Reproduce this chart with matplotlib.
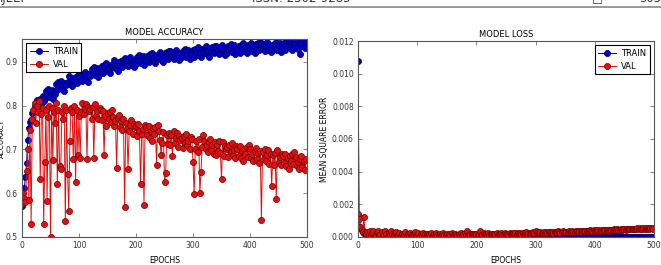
import numpy as np
import matplotlib.pyplot as plt
from matplotlib.lines import Line2D

# epochs are sampled every 2 (0, 2, ..., 498)
epochs = np.arange(0, 500, 2)

# accuracy values in thousandths
train_acc = [
    571, 588, 612, 637, 668, 722, 748, 763, 768, 783,
    786, 800, 791, 812, 798, 806, 815, 803, 822, 811,
    818, 833, 824, 838, 820, 829, 836, 815, 831, 826,
    850, 835, 853, 843, 857, 839, 846, 834, 852, 848,
    853, 867, 849, 860, 844, 864, 856, 866, 851, 869,
    874, 861, 867, 856, 872, 877, 859, 868, 854, 871,
    868, 883, 874, 888, 870, 879, 886, 865, 881, 876,
    890, 875, 893, 883, 897, 879, 886, 874, 892, 888,
    889, 903, 885, 896, 880, 900, 892, 902, 887, 905,
    908, 895, 901, 890, 906, 911, 893, 902, 888, 905,
    896, 911, 902, 916, 898, 907, 914, 893, 909, 904,
    914, 899, 917, 907, 921, 903, 910, 898, 916, 912,
    909, 923, 905, 916, 900, 920, 912, 922, 907, 925,
    924, 911, 917, 906, 922, 927, 909, 918, 904, 921,
    910, 925, 916, 930, 912, 921, 928, 907, 923, 918,
    927, 912, 930, 920, 934, 916, 923, 911, 929, 925,
    921, 935, 917, 928, 912, 932, 924, 934, 919, 937,
    935, 922, 928, 917, 933, 938, 920, 929, 915, 932,
    920, 935, 926, 940, 922, 931, 938, 917, 933, 928,
    936, 921, 939, 929, 943, 925, 932, 920, 938, 934,
    929, 943, 925, 936, 920, 940, 932, 942, 927, 945,
    942, 929, 935, 924, 940, 945, 927, 936, 922, 939,
    926, 941, 932, 946, 928, 937, 944, 923, 939, 934,
    942, 927, 945, 935, 949, 931, 938, 926, 944, 940,
    934, 948, 930, 941, 918, 943, 937, 947, 932, 946,
]

val_acc = [
    575, 600, 590, 580, 650, 700, 585, 745, 530, 770,
    790, 805, 760, 800, 785, 810, 633, 780, 795, 530,
    672, 790, 582, 775, 800, 500, 795, 675, 785, 760,
    805, 620, 790, 663, 655, 785, 770, 800, 537, 790,
    644, 559, 720, 795, 785, 678, 800, 625, 790, 688,
    776, 680, 785, 807, 780, 793, 804, 677, 796, 788,
    793, 770, 797, 680, 803, 776, 787, 769, 795, 790,
    766, 787, 688, 777, 753, 782, 770, 786, 763, 790,
    774, 754, 764, 657, 771, 778, 752, 765, 744, 770,
    569, 761, 747, 656, 742, 755, 766, 734, 758, 750,
    753, 730, 757, 742, 621, 736, 747, 574, 755, 750,
    732, 753, 726, 743, 719, 748, 736, 752, 665, 756,
    742, 722, 688, 715, 739, 625, 645, 733, 712, 738,
    710, 733, 685, 741, 714, 727, 738, 706, 730, 722,
    726, 703, 730, 715, 736, 709, 720, 702, 728, 723,
    672, 598, 702, 719, 695, 724, 601, 648, 705, 732,
    720, 700, 710, 693, 717, 724, 698, 711, 690, 716,
    688, 711, 697, 719, 692, 632, 716, 684, 708, 700,
    705, 682, 709, 694, 715, 688, 699, 681, 707, 702,
    686, 707, 680, 697, 673, 702, 690, 706, 683, 710,
    700, 680, 690, 673, 697, 704, 678, 691, 670, 696,
    539, 693, 679, 701, 674, 687, 698, 666, 690, 617,
    688, 665, 692, 587, 698, 671, 682, 664, 690, 685,
    669, 690, 663, 680, 656, 685, 673, 689, 666, 693,
    682, 662, 672, 655, 679, 686, 660, 673, 652, 678,
]

# loss values in units of 1e-5
train_loss = [
    1080, 120, 60, 40, 30, 25, 20, 15, 12, 10,
    9, 8, 8, 7, 7, 6, 6, 6, 5, 5,
    5, 5, 4, 4, 4, 4, 4, 4, 3, 3,
    3, 3, 3, 3, 3, 3, 3, 3, 3, 3,
    3, 3, 3, 3, 2, 2, 2, 2, 2, 2,
    2, 2, 2, 2, 2, 2, 2, 2, 2, 2,
    2, 2, 2, 2, 2, 2, 2, 2, 2, 2,
    2, 2, 2, 2, 2, 2, 2, 2, 2, 2,
    2, 2, 2, 2, 2, 2, 2, 2, 2, 2,
    2, 2, 2, 2, 2, 2, 2, 2, 2, 2,
    2, 2, 2, 2, 2, 2, 2, 2, 2, 2,
    2, 2, 2, 2, 2, 2, 2, 2, 2, 2,
    2, 2, 2, 2, 2, 2, 2, 2, 2, 2,
    2, 2, 2, 2, 2, 2, 2, 2, 2, 2,
    2, 2, 2, 2, 2, 2, 2, 2, 2, 2,
    2, 2, 2, 2, 2, 2, 2, 2, 2, 2,
    2, 2, 2, 2, 2, 2, 2, 2, 2, 2,
    2, 2, 2, 2, 2, 2, 2, 2, 2, 2,
    2, 2, 2, 2, 2, 2, 2, 2, 2, 2,
    2, 2, 2, 2, 2, 2, 2, 2, 2, 2,
    2, 2, 2, 2, 2, 2, 2, 2, 2, 2,
    2, 2, 2, 2, 2, 2, 2, 2, 2, 2,
    2, 2, 2, 2, 2, 2, 2, 2, 2, 2,
    2, 2, 2, 2, 2, 2, 2, 2, 2, 2,
    2, 2, 2, 2, 2, 2, 2, 2, 2, 2,
]

val_loss = [
    140, 110, 60, 40, 30, 120, 25, 18, 30, 12,
    35, 10, 22, 38, 15, 8, 28, 36, 12, 20,
    32, 9, 15, 34, 18, 6, 25, 12, 38, 16,
    10, 22, 30, 8, 14, 26, 12, 20, 9, 16,
    28, 10, 18, 6, 24, 14, 8, 20, 30, 11,
    15, 22, 8, 18, 12, 26, 9, 16, 21, 10,
    18, 7, 24, 13, 17, 9, 22, 12, 15, 20,
    8, 16, 25, 11, 14, 19, 9, 17, 12, 22,
    14, 10, 20, 15, 9, 18, 13, 24, 11, 16,
    22, 12, 38, 14, 19, 10, 17, 21, 13, 16,
    20, 12, 18, 34, 15, 11, 22, 16, 19, 13,
    24, 14, 18, 21, 12, 20, 17, 25, 15, 19,
    16, 22, 14, 20, 24, 17, 21, 15, 23, 18,
    20, 26, 17, 22, 19, 25, 18, 23, 21, 27,
    19, 24, 28, 21, 25, 20, 26, 23, 29, 22,
    36, 25, 28, 23, 30, 26, 24, 29, 27, 31,
    25, 28, 32, 26, 30, 27, 33, 29, 28, 34,
    30, 27, 32, 35, 29, 33, 31, 28, 34, 32,
    30, 35, 33, 31, 36, 34, 32, 38, 35, 33,
    37, 35, 39, 34, 38, 36, 40, 37, 35, 41,
    38, 40, 36, 42, 39, 41, 38, 43, 40, 42,
    41, 44, 39, 45, 42, 43, 46, 41, 44, 47,
    43, 45, 48, 44, 46, 49, 45, 47, 50, 46,
    48, 51, 47, 52, 49, 50, 53, 48, 55, 51,
    50, 53, 49, 56, 52, 54, 51, 57, 53, 52,
]

train_acc = np.array(train_acc) / 1000.0
val_acc = np.array(val_acc) / 1000.0
train_loss = np.array(train_loss) * 1e-5
val_loss = np.array(val_loss) * 1e-5

acc_ticks = [0.5, 0.6, 0.7, 0.8, 0.9]
loss_ticks = [0.000, 0.002, 0.004, 0.006, 0.008, 0.010, 0.012]
epoch_ticks = [0, 100, 200, 300, 400, 500]

plt.rcParams['font.family'] = 'DejaVu Sans'
fs = 5.5

fig = plt.figure(figsize=(6.61, 2.65), dpi=100)

# page header, cut by the top edge of the screenshot
hy = 1 - 2.0 / 265
fig.text(0.0, hy, 'IJEEI', fontsize=8.5, color='#333333', va='baseline')
fig.text(0.455, hy, 'ISSN: 2502-9285', fontsize=8.5, color='#333333',
         va='baseline', ha='center')
fig.text(0.895, hy, '\u25a1', fontsize=8.5, color='#333333', va='baseline')
fig.text(1.0, hy, '505', fontsize=8.5, color='#333333', va='baseline', ha='right')
fig.add_artist(Line2D([0, 1], [1 - 7 / 265] * 2, color='#888888', lw=1.2))


def style_axes(ax):
    ax.tick_params(direction='in', length=3, width=0.5, labelsize=fs, pad=3,
                   top=True, right=True, colors='#555555', labelcolor='#333333')
    for sp in ax.spines.values():
        sp.set_linewidth(0.8)
        sp.set_color('#555555')


def plot_series(ax, x, y, color, edge):
    ax.plot(x, y, '-', color=color, lw=0.7, marker='o', ms=4.4,
            mfc=color, mec=edge, mew=0.5)


def add_legend(ax, loc):
    leg = ax.legend(['TRAIN', 'VAL'], loc=loc, fontsize=fs + 0.5, numpoints=1,
                    fancybox=False, framealpha=1, edgecolor='k',
                    borderpad=0.4, handlelength=2.2, handletextpad=0.6,
                    borderaxespad=0.5)
    leg.get_frame().set_linewidth(0.8)


# accuracy
ax1 = fig.add_axes([22 / 661, 28 / 265, 285 / 661, 198 / 265])
plot_series(ax1, epochs, train_acc, '#0000cc', '#000066')
plot_series(ax1, epochs, val_acc, '#e01010', '#700000')
ax1.set_xlim(0, 500)
ax1.set_ylim(0.5, 0.952)
ax1.set_xticks(epoch_ticks)
ax1.set_yticks(acc_ticks)
ax1.set_title('MODEL ACCURACY', fontsize=fs + 0.5, pad=3)
ax1.set_xlabel('EPOCHS', fontsize=fs, labelpad=4)
ax1.set_ylabel('ACCURACY', fontsize=fs - 0.3)
ax1.yaxis.set_label_coords(-0.061, 0.5)
style_axes(ax1)
add_legend(ax1, 'upper left')

# loss
ax2 = fig.add_axes([358 / 661, 28 / 265, 296 / 661, 196 / 265])
plot_series(ax2, epochs, train_loss, '#0000cc', '#000066')
plot_series(ax2, epochs, val_loss, '#e01010', '#700000')
ax2.set_xlim(0, 500)
ax2.set_ylim(0, 0.012)
ax2.set_xticks(epoch_ticks)
ax2.set_yticks(loss_ticks)
ax2.set_yticklabels([f'{v:.3f}' for v in loss_ticks])
ax2.set_title('MODEL LOSS', fontsize=fs + 0.5, pad=3)
ax2.set_xlabel('EPOCHS', fontsize=fs, labelpad=4)
ax2.set_ylabel('MEAN SQUARE ERROR', fontsize=fs)
ax2.yaxis.set_label_coords(-0.098, 0.5)
style_axes(ax2)
add_legend(ax2, 'upper right')

fig.savefig('out.png', dpi=100)
